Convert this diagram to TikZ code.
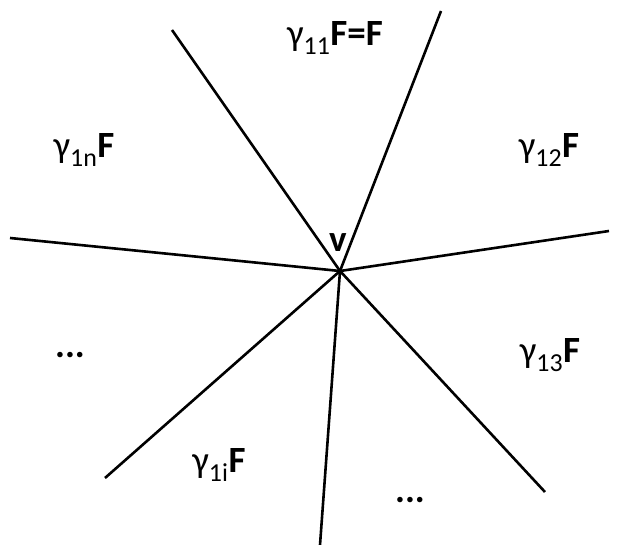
\documentclass[tikz,border=0pt]{standalone}
\usepackage{fontspec}
\setmainfont{Carlito}
\begin{document}
\begin{tikzpicture}[x=1pt,y=-1pt,
  ray/.style={line width=2.6pt},
  lab/.style={inner sep=0pt,font=\fontsize{37}{42}\selectfont}]
\useasboundingbox (0,0) rectangle (622,545);
\coordinate (c) at (340,271);
\coordinate (e1) at (172,30);
\coordinate (e2) at (441,11);
\coordinate (e3) at (10,238);
\coordinate (e4) at (609,231);
\coordinate (e5) at (105,478);
\coordinate (e6) at (320,545);
\coordinate (e7) at (545,492);
\foreach \e in {e1,e2,e3,e4,e5,e6,e7} \draw[ray] (c) -- (\e);
\node[lab] (t11) at (335,38) {γ\textsubscript{11}\textbf{F=F}};
\node[lab] (t1n) at (84,150) {γ\textsubscript{1n}\textbf{F}};
\node[lab] (t12) at (549,150) {γ\textsubscript{12}\textbf{F}};
\node[lab] (t13) at (550,355) {γ\textsubscript{13}\textbf{F}};
\node[lab] (t1i) at (219,465) {γ\textsubscript{1i}\textbf{F}};
\node[lab] (v) at (338,243) {\textbf{v}};
\node[lab] (d1) at (70,355) {\textbf{...}};
\node[lab] (d2) at (410,500) {\textbf{...}};
\end{tikzpicture}
\end{document}
